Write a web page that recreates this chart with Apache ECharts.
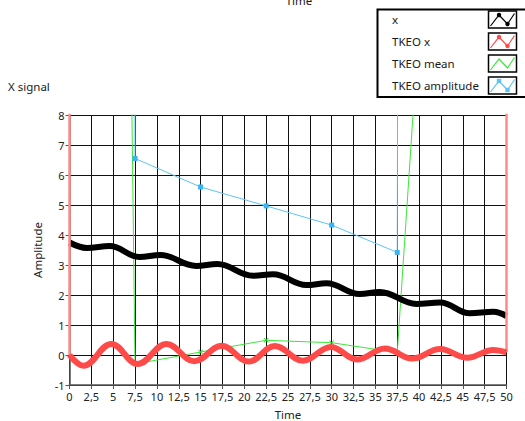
<!DOCTYPE html>
<html><head><meta charset="utf-8">
<script src="https://cdn.jsdelivr.net/npm/echarts@6/dist/echarts.min.js"></script>
<style>html,body{margin:0;padding:0;background:#fff;}#c{width:525px;height:421px;}</style>
</head><body><div id="c"></div>
<script>
// ---- data ----
const seriesNames = ['x', 'TKEO x', 'TKEO mean', 'TKEO amplitude'];

// x signal (thick black): local extrema of the decaying wave
const signalT = [0, 2.0, 4.6, 8.0, 10.4, 14.5, 16.9, 21.0, 23.3, 27.1, 29.4, 33.2, 35.5, 39.7, 42.4, 45.8, 48.5, 50];
const signalX = [3.75, 3.57, 3.63, 3.27, 3.33, 2.97, 3.03, 2.64, 2.69, 2.33, 2.39, 2.03, 2.10, 1.70, 1.75, 1.39, 1.44, 1.30];

// TKEO of x (thick red): edge spikes at t = 0 and t = 50, then the extrema
const tkeoT = [0, 0, 1.6, 4.8, 7.8, 11.1, 14.3, 17.4, 20.5, 23.5, 26.7, 29.9, 32.9, 36.1, 39.2, 42.4, 45.5, 48.5, 50, 50];
const tkeoX = [60, 0.0, -0.36, 0.37, -0.30, 0.37, -0.21, 0.31, -0.22, 0.30, -0.19, 0.27, -0.15, 0.22, -0.12, 0.20, -0.09, 0.17, 0.09, 60];

// block statistics (every 7.5 s)
const blockT = [0, 7.5, 15, 22.5, 30, 37.5, 45];
const tkeoMean = [175, -0.30, 0.10, 0.49, 0.41, 0.08, 33];
const tkeoAmp = [1000, 6.55, 5.60, 4.97, 4.33, 3.42, 1000];

// axes
const xMin = 0, xMax = 50, xStep = 2.5;
const yMin = -1, yMax = 8, yStep = 1;

const zip = (a, b) => a.map((v, i) => [v, b[i]]);
const FONT = 'Noto Sans';
const fmt = v => String(v).replace('.', ',');

const tkeoAll = zip(tkeoT, tkeoX);
const tkeoBody = tkeoAll.slice(1, -1);
const tkeoEdges = tkeoAll.slice(0, 2).concat([['-', '-']], tkeoAll.slice(-2));

const chart = echarts.init(document.getElementById('c'), null, {renderer: 'svg'});

const colors = {x: '#000000', tk: '#ff4a4a', tkEdge: '#ff8a8a', mean: '#3ae83a', amp: '#5cc4f5'};

function legendItem(i, name, color, kind) {
  const y0 = 11 + i * 22;
  const bx = 488.5;
  const pts = [[bx + 2, y0 + 15], [bx + 10.5, y0 + 4], [bx + 19, y0 + 13], [bx + 26, y0 + 2.5]];
  const els = [
    {type: 'text', left: 392, top: y0 + 2, style: {text: name, fill: '#1a1a1a', font: '11.5px "' + FONT + '"'}},
    {type: 'rect', shape: {x: bx, y: y0, width: 28, height: 17}, style: {fill: '#fff', stroke: '#000', lineWidth: 1.5}},
    {type: 'polyline', shape: {points: pts}, style: {stroke: color, lineWidth: 1.2, fill: null}}
  ];
  if (kind === 'dot') {
    els.push({type: 'circle', shape: {cx: pts[1][0], cy: pts[1][1], r: 2.2}, style: {fill: color}});
    els.push({type: 'circle', shape: {cx: pts[2][0], cy: pts[2][1], r: 2.2}, style: {fill: color}});
  } else if (kind === 'sq') {
    els.push({type: 'rect', shape: {x: pts[1][0] - 2.2, y: pts[1][1] - 2.2, width: 4.4, height: 4.4}, style: {fill: color}});
    els.push({type: 'rect', shape: {x: pts[2][0] - 2.2, y: pts[2][1] - 2.2, width: 4.4, height: 4.4}, style: {fill: color}});
  }
  return els;
}

const legendEls = [
  {type: 'rect', shape: {x: 377.5, y: 9.5, width: 160, height: 87.5}, style: {fill: '#fff', stroke: '#000', lineWidth: 2}}
].concat(
  legendItem(0, seriesNames[0], '#000', 'dot'),
  legendItem(1, seriesNames[1], colors.tk, 'dot'),
  legendItem(2, seriesNames[2], colors.mean, 'none'),
  legendItem(3, seriesNames[3], colors.amp, 'sq')
);

const axisCommon = {
  axisLine: {show: true, onZero: false, lineStyle: {color: '#555', width: 1.5}},
  axisTick: {show: true, length: 4, inside: false, lineStyle: {color: '#555'}},
  splitLine: {show: true, lineStyle: {color: '#111', width: 1}},
  axisLabel: {color: '#222', fontFamily: FONT, fontSize: 11, formatter: fmt},
  nameTextStyle: {color: '#222', fontFamily: FONT, fontSize: 11.5}
};

chart.setOption({
  animation: false,
  backgroundColor: '#fff',
  textStyle: {fontFamily: FONT},
  grid: {left: 69.5, right: 18.5, top: 115, bottom: 36, containLabel: false, outerBoundsMode: 'none'},
  xAxis: Object.assign({}, axisCommon, {
    type: 'value', min: xMin, max: xMax, interval: xStep,
    name: 'Time', nameLocation: 'middle', nameGap: 23.5,
    axisLabel: Object.assign({}, axisCommon.axisLabel, {margin: 6})
  }),
  yAxis: Object.assign({}, axisCommon, {
    type: 'value', min: yMin, max: yMax, interval: yStep,
    name: 'Amplitude', nameLocation: 'middle', nameGap: 24, nameRotate: 90,
    axisLabel: Object.assign({}, axisCommon.axisLabel, {margin: 5})
  }),
  series: [
    {name: seriesNames[2], type: 'line', data: zip(blockT, tkeoMean), lineStyle: {color: colors.mean, width: 1},
     itemStyle: {color: '#22cc22'}, symbol: 'path://M0,1L1,0L5,4L9,0L10,1L6,5L10,9L9,10L5,6L1,10L0,9L4,5Z', symbolSize: 5, showSymbol: true, z: 2},
    {name: seriesNames[3], type: 'line', data: zip(blockT, tkeoAmp), lineStyle: {color: colors.amp, width: 1},
     itemStyle: {color: '#3ab4f2'}, symbol: 'rect', symbolSize: 5, showSymbol: true, z: 3},
    {name: seriesNames[0], type: 'line', data: zip(signalT, signalX), smooth: 0.4, showSymbol: false,
     lineStyle: {color: colors.x, width: 6}, z: 4},
    {name: seriesNames[1], type: 'line', data: tkeoEdges, showSymbol: false, connectNulls: false,
     lineStyle: {color: colors.tkEdge, width: 2.5}, z: 5},
    {name: seriesNames[1], type: 'line', data: tkeoBody, smooth: 0.4, showSymbol: false,
     lineStyle: {color: colors.tk, width: 6}, z: 6}
  ],
  graphic: [
    {type: 'text', left: 8, top: 80, style: {text: 'X signal', fill: '#1a1a1a', font: '11.5px "' + FONT + '"'}},
    {type: 'text', x: 299, y: 6, style: {text: 'Time', fill: '#1a1a1a', font: '11.5px "' + FONT + '"', textAlign: 'center', textVerticalAlign: 'bottom'}}
  ].concat(legendEls)
});
</script></body></html>
